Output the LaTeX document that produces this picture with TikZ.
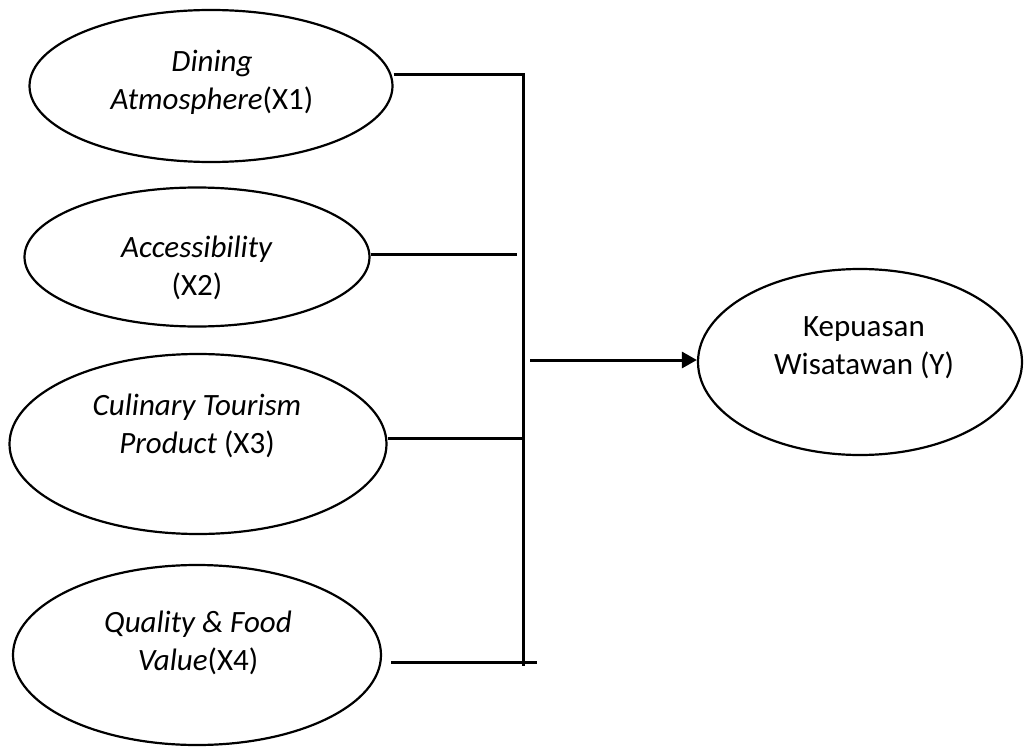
\documentclass[tikz,border=0pt]{standalone}
\usepackage{fontspec}
\setmainfont{Carlito}
\usetikzlibrary{arrows.meta,shapes.geometric}
\begin{document}
\begin{tikzpicture}[x=1pt,y=-1pt,
  oval/.style={draw,ellipse,line width=2.2pt,inner sep=0pt},
  lbl/.style={align=center,font=\fontsize{31}{38}\selectfont},
  conn/.style={line width=3pt},
]
\useasboundingbox (0,0) rectangle (1025,749);
\node[oval,minimum width=363pt,minimum height=152pt] (X1) at (211,86) {};
\node[lbl] (T1) at (212,82) {\textit{Dining}\\\textit{Atmosphere}(X1)};
\node[oval,minimum width=345pt,minimum height=139pt] (X2) at (197,257) {};
\node[lbl] (T2) at (197,268) {\textit{Accessibility}\\(X2)};
\node[oval,minimum width=377pt,minimum height=180pt] (X3) at (198,444) {};
\node[lbl] (T3) at (197,426) {\textit{Culinary Tourism}\\\textit{Product} (X3)};
\node[oval,minimum width=368pt,minimum height=180pt] (X4) at (197,655) {};
\node[lbl] (T4) at (198,643) {\textit{Quality \& Food}\\\textit{Value}(X4)};
\node[oval,minimum width=324pt,minimum height=186pt] (Y) at (860,362) {};
\node[lbl] (TY) at (864,348) {Kepuasan\\Wisatawan (Y)};
\coordinate (b1) at (525,75);
\coordinate (b2) at (517,254);
\coordinate (b3) at (523,438);
\coordinate (b4) at (537,662);
\coordinate (top) at (523,75);
\coordinate (bot) at (523,666);
\coordinate (a0) at (530,360);
\draw[conn] (X1.east |- b1) -- (b1);
\draw[conn] (X2.east |- b2) -- (b2);
\draw[conn] (X3.east |- b3) -- (b3);
\draw[conn] ([xshift=9pt]X4.east |- b4) -- (b4);
\draw[conn] (top) -- (bot);
\draw[conn,-{Triangle[length=15pt,width=16pt]}] (a0) -- (Y.west |- a0);
\end{tikzpicture}
\end{document}
